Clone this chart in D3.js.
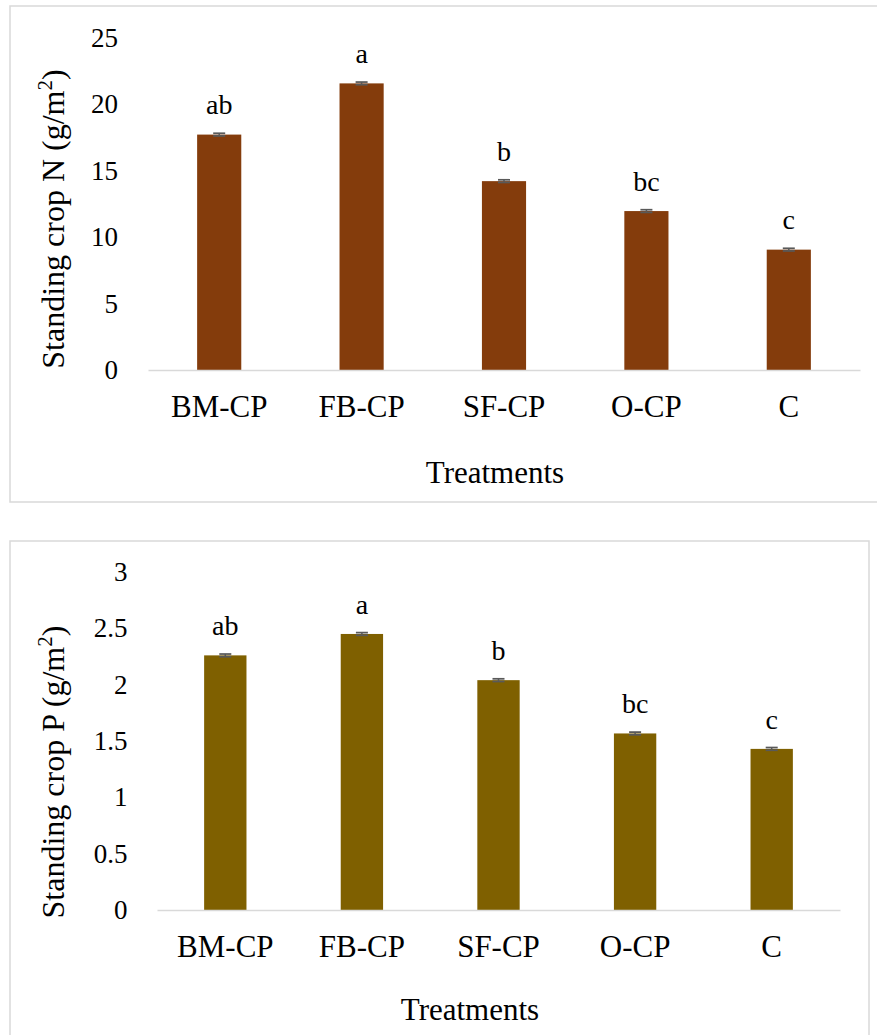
<!DOCTYPE html>
<html>
<head>
<meta charset="utf-8">
<script src="https://cdn.jsdelivr.net/npm/d3@7"></script>
<style>
  html, body { margin: 0; padding: 0; background: #fff; }
  svg { display: block; }
</style>
</head>
<body>
<svg id="chart" width="877" height="1035"></svg>
<script>
// ---- data ----
const categories = ["BM-CP", "FB-CP", "SF-CP", "O-CP", "C"];
const nValues = [17.7, 21.55, 14.2, 11.95, 9.05];
const nErrors = [0.1, 0.1, 0.1, 0.1, 0.1];
const nLetters = ["ab", "a", "b", "bc", "c"];
const nTicks = [0, 5, 10, 15, 20, 25];
const pValues = [2.26, 2.45, 2.04, 1.567, 1.43];
const pErrors = [0.012, 0.012, 0.012, 0.012, 0.012];
const pLetters = ["ab", "a", "b", "bc", "c"];
const pTicks = [0, 0.5, 1, 1.5, 2, 2.5, 3];

const FONT = "'Liberation Serif', 'Times New Roman', serif";
const svg = d3.select("#chart");

function drawPanel(cfg) {
  const g = svg.append("g");
  // outer frame
  g.append("rect")
    .attr("x", cfg.box[0]).attr("y", cfg.box[1])
    .attr("width", cfg.box[2]).attr("height", cfg.box[3])
    .attr("fill", "#fff").attr("stroke", "#d9d9d9").attr("stroke-width", 1.5);

  const x = d3.scaleBand().domain(categories)
    .range(cfg.xRange).paddingInner(0.69).paddingOuter(0.345);
  const y = d3.scaleLinear().domain(cfg.yDomain).range(cfg.yRange);

  // y tick labels
  const yAxis = d3.axisLeft(y).tickValues(cfg.ticks).tickSize(0).tickPadding(0)
    .tickFormat(d => String(d));
  const ya = g.append("g").attr("transform", `translate(${cfg.tickRight},0)`).call(yAxis);
  ya.select(".domain").remove();
  ya.selectAll("text").style("font-size", "27px").style("font-family", FONT).attr("fill", "#000");

  // bars
  g.selectAll("rect.bar").data(cfg.values).enter().append("rect")
    .attr("class", "bar")
    .attr("x", (d, i) => x(categories[i]))
    .attr("y", d => y(d))
    .attr("width", x.bandwidth())
    .attr("height", d => y(0) - y(d))
    .attr("fill", cfg.color);

  // x axis line and labels
  const xAxis = d3.axisBottom(x).tickSize(0).tickPadding(0);
  const xa = g.append("g").attr("transform", `translate(0,${y(0)})`).call(xAxis);
  xa.select(".domain").attr("stroke", "#d9d9d9").attr("stroke-width", 1.5);
  xa.selectAll("text").style("font-size", "31px").style("font-family", FONT)
    .attr("fill", "#000").attr("dy", null).attr("y", cfg.xLabelBaseline - y(0));

  // error bars
  const eb = g.selectAll("g.err").data(cfg.values).enter().append("g").attr("class", "err");
  const cx = (i) => x(categories[i]) + x.bandwidth() / 2;
  eb.append("line")
    .attr("x1", (d, i) => cx(i)).attr("x2", (d, i) => cx(i))
    .attr("y1", (d, i) => y(d + cfg.errors[i])).attr("y2", (d, i) => y(d - cfg.errors[i]))
    .attr("stroke", "#595959").attr("stroke-width", 1.5);
  [1, -1].forEach(s => {
    eb.append("line")
      .attr("x1", (d, i) => cx(i) - 6).attr("x2", (d, i) => cx(i) + 6)
      .attr("y1", (d, i) => y(d + s * cfg.errors[i])).attr("y2", (d, i) => y(d + s * cfg.errors[i]))
      .attr("stroke", "#595959").attr("stroke-width", 1.75);
  });

  // significance letters
  g.selectAll("text.letter").data(cfg.values).enter().append("text")
    .attr("class", "letter")
    .attr("x", (d, i) => cx(i))
    .attr("y", (d, i) => y(d + cfg.errors[i]) - 19)
    .attr("text-anchor", "middle")
    .style("font-size", "28px").style("font-family", FONT)
    .text((d, i) => cfg.letters[i]);

  // x title
  g.append("text").attr("x", cfg.xTitle[0]).attr("y", cfg.xTitle[1])
    .attr("text-anchor", "middle")
    .style("font-size", "31px").style("font-family", FONT).text("Treatments");

  // y title
  const yt = g.append("text")
    .attr("transform", `translate(${cfg.yTitle[0]},${cfg.yTitle[1]}) rotate(-90)`)
    .attr("text-anchor", "middle")
    .style("font-size", "32px").style("font-family", FONT);
  yt.append("tspan").text(cfg.yLabel + " (g/m");
  yt.append("tspan").attr("baseline-shift", "super").style("font-size", "21px").text("2");
  yt.append("tspan").text(")");
}

drawPanel({
  box: [10, 6, 880, 496],
  xRange: [148, 860], yDomain: [0, 25], yRange: [370, 37.5],
  ticks: nTicks, tickRight: 118,
  values: nValues, errors: nErrors, letters: nLetters,
  color: "#843C0C", xLabelBaseline: 417, xTitle: [495, 483],
  yTitle: [64, 219], yLabel: "Standing crop N"
});

drawPanel({
  box: [10, 541, 859, 520],
  xRange: [157, 840], yDomain: [0, 3], yRange: [910, 572],
  ticks: pTicks, tickRight: 127.5,
  values: pValues, errors: pErrors, letters: pLetters,
  color: "#7F6000", xLabelBaseline: 957, xTitle: [470, 1020],
  yTitle: [64, 772], yLabel: "Standing crop P"
});
</script>
</body>
</html>
